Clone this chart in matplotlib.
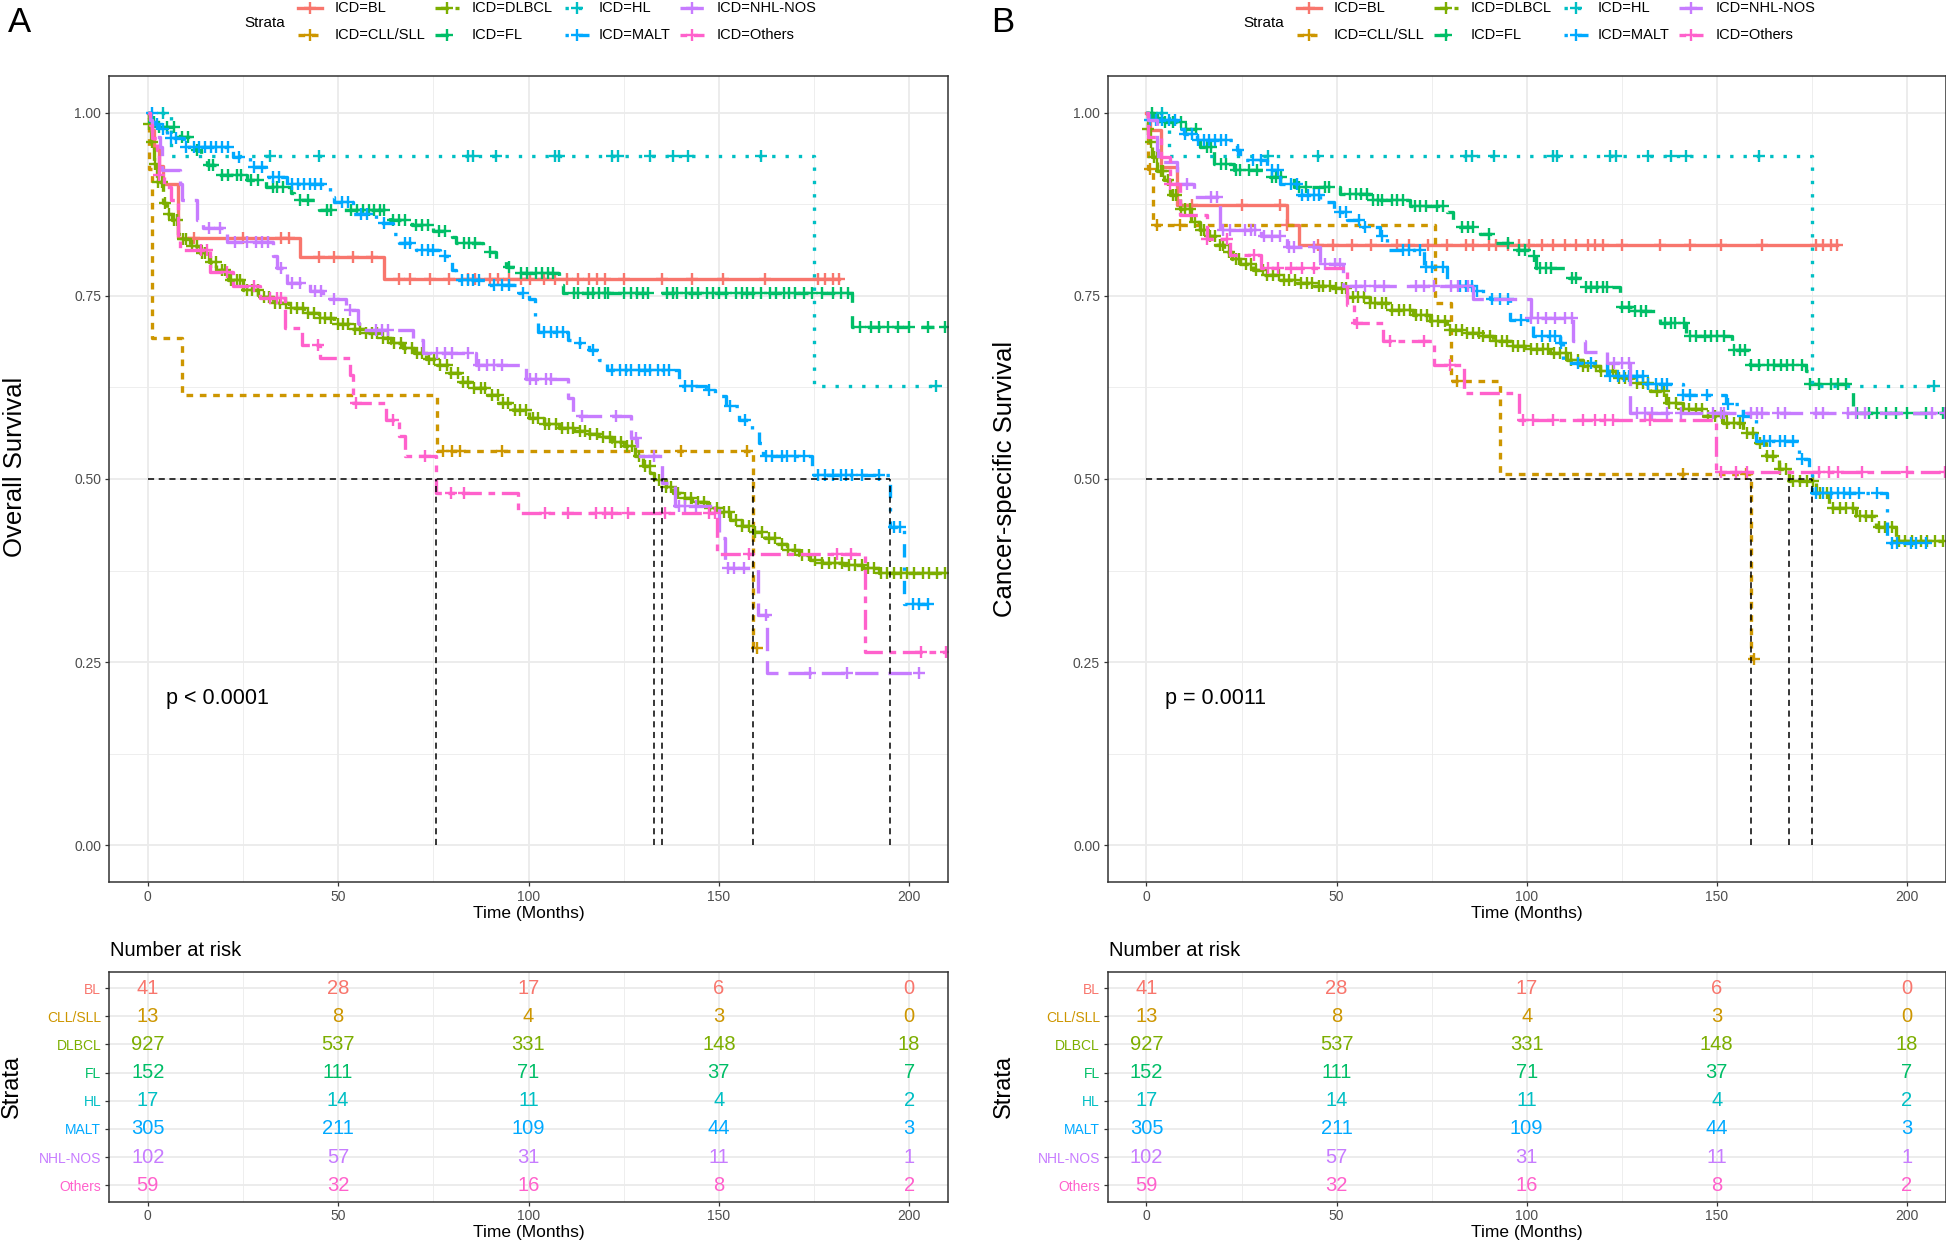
import numpy as np
import matplotlib.pyplot as plt
from matplotlib.lines import Line2D

plt.rcParams['font.family'] = ['Liberation Sans', 'DejaVu Sans']

strata = ["BL", "CLL/SLL", "DLBCL", "FL", "HL", "MALT", "NHL-NOS", "Others"]
colors = ["#F8766D", "#CD9600", "#7CAE00", "#00BE67", "#00BFC4", "#00A9FF", "#C77CFF", "#FF61CC"]
dash_patterns = [None, (2, 2), (4, 2), (4, 4), (1, 3), (1, 3, 4, 3), (7, 3), (2, 2, 6, 2)]

# ---------------- censoring times ----------------
bl_cens = [12, 25, 35, 37, 45, 49, 54, 59, 66, 69, 74, 79, 84, 86, 90, 92, 95, 98, 100.5, 104,
           107, 110, 113, 116, 118, 120, 125, 135, 143, 151, 162, 176, 178, 180, 181.5]
dlbcl_cens = [0.4, 1.1, 1.9, 2.7, 3.8, 4.4, 5.6, 6.9, 7.7, 9.2, 10.1, 11.5, 12.8, 14.3, 15.1, 16.6,
              17.9, 19.4, 20.2, 21.8, 23.5, 24.3, 26.1, 27.4, 28.9, 30.6, 31.7, 33.4, 34.8, 36.2,
              37.5, 39.1, 40.7, 42.2, 43.6, 45.3, 46.5, 48.2, 49.9, 51.3, 52.6, 54.4, 55.7, 57.3,
              58.8, 60.2, 61.9, 63.1, 64.7, 66.4, 67.6, 69.3, 70.8, 72.1, 73.9, 75.2, 76.8, 78.5,
              79.7, 81.4, 82.9, 84.2, 85.8, 87.5, 88.6, 90.3, 91.9, 93.4, 94.7, 96.5, 97.8, 99.4,
              101.2, 102.6, 104.3, 105.5, 107.1, 108.8, 110.4, 111.7, 113.5, 114.9, 116.2, 118.1,
              119.5, 121.3, 122.6, 124.2, 125.9, 127.3, 129.1, 130.6, 131.8, 134.2, 136.1, 137.5,
              139.3, 141.2, 142.7, 144.5, 146.1, 147.8, 149.4, 151.3, 152.8, 154.6, 156.1, 157.9,
              159.6, 161.4, 163.2, 164.8, 166.5, 168.3, 170.1, 171.9, 173.6, 175.3, 177.2, 178.9,
              180.6, 182.4, 184.1, 185.9, 187.6, 189.2, 190.8, 192.7, 194.3, 196.1, 197.8, 199.5,
              201.3, 203.6, 205.2, 207.4, 209.5]
fl_cens = [1.5, 3, 5, 7, 9, 10.5, 13, 16, 17, 19.5, 21, 23.5, 24.5, 27, 29, 33, 34, 35.5, 40, 42,
           47, 48, 53.5, 55, 56.5, 58, 59.5, 61, 62, 64.5, 66, 67.5, 70.5, 72, 73.5, 76.5, 78, 83,
           84.5, 86, 90, 95, 98, 99.5, 102, 103.5, 105, 106.5, 112, 113, 115.5, 117, 118.5, 120,
           121, 125, 127, 128.5, 130, 131.5, 136.5, 138, 139, 141.5, 143, 144.5, 147, 148.5, 150,
           152, 154.5, 156, 157.5, 159, 161, 163.5, 165, 167, 168.5, 170, 172.5, 174.5, 177, 180,
           182, 184, 187, 190, 192, 194.5, 197, 200, 205, 209.5]
hl_cens = [4, 32, 45, 84, 85.5, 91.5, 107, 108, 122, 123.5, 132, 138, 142, 161, 207]
malt_cens = [1, 2.5, 4, 6, 7.5, 10, 12, 13.5, 15, 16.5, 18, 19.5, 21, 24, 28, 30, 33, 34.5, 38,
             39.5, 41, 42.5, 44, 45.5, 51, 52.5, 56, 57.5, 62, 67.5, 69, 72, 73.5, 75, 78, 82.5,
             84, 85.5, 87, 91, 93, 95, 98.5, 104, 106, 107.5, 109, 113.5, 117, 122, 124, 125.5,
             127, 129, 130.5, 132, 134, 135.5, 137, 141, 143, 147.5, 153, 157, 162.5, 164, 166.5,
             168, 170, 172.5, 176, 178, 180, 182, 183.5, 185, 187.5, 192, 196, 197.5, 201, 202.5, 205]

# ---------------- A: overall survival (event times / survival after event) ----------------
os_bl_time = [0.5, 1.5, 3, 4, 8, 40, 62]
os_bl_surv = [0.976, 0.951, 0.927, 0.902, 0.829, 0.803, 0.773]
os_cll_time = [0.3, 1.0, 8.9, 76, 159]
os_cll_surv = [0.923, 0.692, 0.615, 0.538, 0.269]
os_cll_cens = [77.5, 80, 82, 93, 140, 157.5, 160]
os_dlbcl_time = [0.3, 0.8, 1.5, 2.5, 4, 5, 6.3, 8, 9, 11, 13.7, 16, 18, 21, 25, 29, 33, 37, 41, 45,
                 49, 53, 57, 61, 64, 67, 70, 73, 76, 79, 82, 85, 89, 92, 96, 100, 104, 108, 112,
                 116, 119, 122, 125, 128, 130, 132, 133, 136, 138, 140, 143, 147, 150, 153, 156,
                 159, 162, 165, 168, 171, 174, 177, 183, 188, 192]
os_dlbcl_surv = [0.985, 0.96, 0.93, 0.905, 0.876, 0.862, 0.853, 0.835, 0.828, 0.818, 0.808, 0.796,
                 0.785, 0.772, 0.758, 0.748, 0.74, 0.734, 0.727, 0.72, 0.712, 0.705, 0.699, 0.692,
                 0.686, 0.679, 0.672, 0.664, 0.655, 0.645, 0.633, 0.624, 0.614, 0.604, 0.594,
                 0.583, 0.575, 0.569, 0.565, 0.561, 0.557, 0.551, 0.545, 0.532, 0.518, 0.508,
                 0.498, 0.489, 0.481, 0.474, 0.468, 0.461, 0.455, 0.444, 0.436, 0.428, 0.419,
                 0.411, 0.403, 0.396, 0.389, 0.386, 0.383, 0.378, 0.372]
os_fl_time = [0.5, 1.2, 1.8, 7.5, 8.5, 11, 12, 14, 15.5, 18.5, 26, 31, 37.5, 38.5, 44, 45, 63, 63.5,
              69.5, 75, 80, 81, 88, 91.5, 94, 96.5, 108, 109, 185]
os_fl_surv = [0.993, 0.987, 0.981, 0.974, 0.967, 0.958, 0.949, 0.938, 0.928, 0.915, 0.908, 0.899,
              0.89, 0.881, 0.874, 0.867, 0.86, 0.853, 0.847, 0.838, 0.83, 0.822, 0.81, 0.799,
              0.79, 0.781, 0.765, 0.754, 0.708]
os_hl_time = [6, 175]
os_hl_surv = [0.941, 0.627]
os_malt_time = [1.5, 3, 5, 9.4, 22.5, 26.8, 31, 36.5, 47.8, 49, 54, 60, 64.4, 66, 70.5, 76.7, 80,
                81, 89, 97.6, 100, 101.6, 102.5, 110.5, 112, 116, 118.6, 120.5, 139.6, 146.6,
                149, 151.8, 155.3, 158.8, 160.6, 161.5, 174.6, 195, 198.6]
os_malt_surv = [0.985, 0.978, 0.965, 0.953, 0.94, 0.926, 0.912, 0.903, 0.885, 0.878, 0.862, 0.849,
                0.835, 0.822, 0.813, 0.804, 0.785, 0.772, 0.765, 0.754, 0.745, 0.722, 0.701,
                0.69, 0.686, 0.676, 0.663, 0.649, 0.627, 0.622, 0.613, 0.6, 0.581, 0.565,
                0.549, 0.531, 0.506, 0.435, 0.329]
os_nhl_time = [0.5, 1, 3.2, 3.7, 8.5, 9, 13, 14.6, 20.7, 33, 34, 36.5, 42.6, 46, 52, 55.2, 55.5,
               69.7, 72.3, 86.3, 99.4, 110.3, 111.6, 127, 128.5, 135, 138.5, 150, 151.6, 160.4,
               162.7]
os_nhl_surv = [0.99, 0.967, 0.953, 0.922, 0.903, 0.881, 0.853, 0.842, 0.824, 0.804, 0.788, 0.767,
               0.756, 0.745, 0.731, 0.713, 0.704, 0.69, 0.672, 0.656, 0.636, 0.611, 0.586,
               0.556, 0.531, 0.495, 0.463, 0.42, 0.379, 0.315, 0.235]
os_nhl_cens = [16, 19, 23, 26, 28.5, 30, 31.5, 35, 38, 40, 44, 45.5, 49, 53, 60, 61.5, 63, 76, 78,
               80, 84, 87, 89, 91, 93, 100.5, 102, 104.5, 106, 114, 123, 128.3, 133, 139.5, 141,
               144, 152.5, 154, 156.5, 162.5, 174, 183.7, 202.5]
os_oth_time = [0.5, 1, 2.5, 3, 4.2, 6, 8, 8.5, 16.3, 22.5, 29.5, 36, 40.5, 45.2, 53, 54, 62.5, 66,
               67.5, 75.8, 97.2, 149.6, 188.5]
os_oth_surv = [0.983, 0.966, 0.949, 0.915, 0.898, 0.881, 0.83, 0.813, 0.783, 0.763, 0.747, 0.706,
               0.683, 0.665, 0.642, 0.604, 0.581, 0.559, 0.531, 0.481, 0.454, 0.397, 0.264]
os_oth_cens = [3, 14, 15.5, 20.7, 28, 32, 34, 35, 44.8, 54.8, 64.4, 72.7, 79.7, 83, 104.4, 110.5,
               117.8, 120, 122, 126.2, 135.9, 147.3, 149, 158, 181, 184.7, 203, 209.6]

# ---------------- B: cancer-specific survival ----------------
css_bl_time = [1, 3.7, 8, 37, 40]
css_bl_surv = [0.976, 0.926, 0.874, 0.847, 0.819]
css_cll_time = [0.3, 1.8, 76, 80, 93, 159]
css_cll_surv = [0.923, 0.846, 0.74, 0.634, 0.507, 0.254]
css_cll_cens = [0.8, 2.8, 8.9, 81.6, 141, 157.7, 159.8]
css_dlbcl_time = [0.3, 1, 1.5, 2.8, 4.5, 6.3, 8.9, 11.6, 14, 16, 18, 20.3, 22.5, 24.7, 28, 30.8,
                  35, 39.6, 44, 48.3, 52.7, 58.8, 64, 70.2, 74.6, 79, 83, 87.7, 91.2, 96.5, 101,
                  106, 110.5, 114.9, 119.2, 123.6, 128, 132.3, 136.7, 141, 146.3, 151.6, 156.8,
                  160.3, 163, 166.4, 169, 176, 179.5, 186.5, 191.8, 197]
css_dlbcl_surv = [0.978, 0.96, 0.94, 0.92, 0.908, 0.887, 0.869, 0.851, 0.84, 0.831, 0.82, 0.81,
                  0.8, 0.794, 0.785, 0.779, 0.772, 0.767, 0.763, 0.76, 0.749, 0.74, 0.731, 0.724,
                  0.715, 0.704, 0.699, 0.695, 0.688, 0.681, 0.678, 0.672, 0.663, 0.654, 0.647,
                  0.638, 0.631, 0.62, 0.604, 0.595, 0.586, 0.577, 0.563, 0.549, 0.531, 0.513,
                  0.497, 0.481, 0.46, 0.449, 0.435, 0.415]
css_fl_time = [2, 5, 10, 14, 17.7, 23, 32.6, 38.7, 51, 58.8, 69.4, 79, 80.7, 87.7, 91.3, 95.6,
               100.9, 102.5, 111, 115, 124.5, 128, 135, 142, 154, 158.6, 173.4, 174, 185.7]
css_fl_surv = [0.993, 0.987, 0.978, 0.953, 0.93, 0.922, 0.912, 0.899, 0.889, 0.881, 0.872, 0.865,
               0.844, 0.835, 0.822, 0.813, 0.804, 0.788, 0.774, 0.762, 0.735, 0.729, 0.713,
               0.695, 0.676, 0.656, 0.647, 0.629, 0.59]
css_hl_time = [6, 175]
css_hl_surv = [0.941, 0.627]
css_malt_time = [1, 8, 9.8, 13.3, 23.8, 24.7, 31.7, 35.2, 39.6, 45.7, 49.2, 52.7, 57, 61.5, 63.2,
                 72.9, 79, 86, 90.4, 95.6, 101.7, 108.7, 109.6, 121, 131.5, 141, 152.4, 156.8,
                 160.3, 171.7, 174.3, 175, 194.8]
css_malt_surv = [0.99, 0.978, 0.971, 0.962, 0.949, 0.935, 0.922, 0.903, 0.887, 0.878, 0.865,
                 0.853, 0.844, 0.831, 0.813, 0.79, 0.763, 0.756, 0.745, 0.717, 0.695, 0.686,
                 0.658, 0.64, 0.629, 0.615, 0.602, 0.586, 0.552, 0.527, 0.515, 0.481, 0.413]
css_nhl_time = [0.5, 2.8, 3, 8, 12.4, 19.4, 30, 37, 45.7, 51.8, 86, 101, 112.2, 115.3, 121, 127.1]
css_nhl_surv = [0.99, 0.949, 0.933, 0.903, 0.885, 0.84, 0.831, 0.817, 0.794, 0.764, 0.745, 0.72,
                0.688, 0.674, 0.658, 0.59]
css_nhl_cens = [10.7, 17, 18.5, 20, 22, 26, 27.5, 28.6, 31, 33, 35, 37.5, 38.7, 44, 47, 49.5, 51,
                55, 57.5, 60, 62.5, 71, 73, 75.5, 80, 82, 84.5, 101, 103, 105, 107.5, 110, 112,
                123, 125, 127, 129, 131, 133, 137, 140.5, 149, 151, 152, 159, 160.5, 162, 166,
                168, 176, 178, 184.5, 186.5, 189, 206.5, 210]
css_oth_time = [0.5, 3.7, 6.3, 8.9, 16, 22, 30, 52.7, 54.5, 62.3, 75.5, 83.4, 98, 149.8]
css_oth_surv = [0.967, 0.94, 0.903, 0.86, 0.828, 0.806, 0.788, 0.738, 0.713, 0.688, 0.656, 0.618,
                0.581, 0.509]
css_oth_cens = [6.3, 16, 21.2, 28.2, 32, 34.5, 38, 41, 44, 55.3, 64, 73, 79.7, 99, 101.7, 107,
                114.9, 118, 120.5, 122.7, 132.3, 151.1, 155, 158, 177, 179.5, 182, 188.3, 200, 210]

# ---------------- number at risk ----------------
risk_times = [0, 50, 100, 150, 200]
risk_bl = [41, 28, 17, 6, 0]
risk_cll = [13, 8, 4, 3, 0]
risk_dlbcl = [927, 537, 331, 148, 18]
risk_fl = [152, 111, 71, 37, 7]
risk_hl = [17, 14, 11, 4, 2]
risk_malt = [305, 211, 109, 44, 3]
risk_nhl = [102, 57, 31, 11, 1]
risk_oth = [59, 32, 16, 8, 2]
at_risk = [risk_bl, risk_cll, risk_dlbcl, risk_fl, risk_hl, risk_malt, risk_nhl, risk_oth]

os_curves = [(os_bl_time, os_bl_surv, bl_cens), (os_cll_time, os_cll_surv, os_cll_cens),
             (os_dlbcl_time, os_dlbcl_surv, dlbcl_cens), (os_fl_time, os_fl_surv, fl_cens),
             (os_hl_time, os_hl_surv, hl_cens), (os_malt_time, os_malt_surv, malt_cens),
             (os_nhl_time, os_nhl_surv, os_nhl_cens), (os_oth_time, os_oth_surv, os_oth_cens)]
css_curves = [(css_bl_time, css_bl_surv, bl_cens), (css_cll_time, css_cll_surv, css_cll_cens),
              (css_dlbcl_time, css_dlbcl_surv, dlbcl_cens), (css_fl_time, css_fl_surv, fl_cens),
              (css_hl_time, css_hl_surv, hl_cens), (css_malt_time, css_malt_surv, malt_cens),
              (css_nhl_time, css_nhl_surv, css_nhl_cens), (css_oth_time, css_oth_surv, css_oth_cens)]

W, H = 1946, 1244
fig = plt.figure(figsize=(W / 100, H / 100), dpi=100)
GRID = '#EBEBEB'
XLIM = (-10.2, 210.2)
LW = 2.4
MS, MEW = 8, 1.7


def fx(px):
    return px / W


def fy(py):
    return 1 - py / H


def bw_style(ax):
    for sp in ax.spines.values():
        sp.set_color('#333333')
        sp.set_linewidth(1.1)
    ax.set_xlim(*XLIM)
    ax.set_xticks([0, 50, 100, 150, 200])
    ax.set_xticks([25, 75, 125, 175], minor=True)
    ax.grid(which='major', color=GRID, lw=1.3)
    ax.grid(which='minor', color=GRID, lw=0.6)
    ax.set_axisbelow(True)
    ax.tick_params(which='major', direction='out', length=3, width=0.9, color='#333333',
                   labelsize=10, labelcolor='#4D4D4D', pad=2.5)
    ax.tick_params(which='minor', length=0)


def km_panel(ax, curves, ptext):
    meds = []
    for i, (t, s, c) in enumerate(curves):
        t = np.array(t, float)
        s = np.array(s, float)
        c = np.array(c, float)
        end = max(c.max(), t.max())
        x = np.concatenate([[0], t, [end]])
        y = np.concatenate([[1], s, [s[-1]]])
        line, = ax.step(x, y, where='post', color=colors[i], lw=LW)
        if dash_patterns[i] is not None:
            line.set_dashes(dash_patterns[i])
        idx = np.searchsorted(t, c, side='right')
        cy = np.where(idx == 0, 1.0, s[np.maximum(idx - 1, 0)])
        ax.plot(c, cy, ls='none', marker='+', color=colors[i], ms=MS, mew=MEW)
        below = t[s <= 0.5]
        if len(below):
            meds.append(below[0])
    ax.plot([0, max(meds)], [0.5, 0.5], color='black', lw=1.1, dashes=(4, 3))
    for m in meds:
        ax.plot([m, m], [0, 0.5], color='black', lw=1.1, dashes=(4, 3))
    bw_style(ax)
    ax.set_ylim(-0.05, 1.05)
    ax.set_yticks([0, 0.25, 0.5, 0.75, 1.0])
    ax.set_yticklabels(['0.00', '0.25', '0.50', '0.75', '1.00'])
    ax.set_yticks([0.125, 0.375, 0.625, 0.875], minor=True)
    ax.set_xlabel('Time (Months)', fontsize=12.5, labelpad=1.5)
    ax.text(4.8, 0.2, ptext, fontsize=15.5, ha='left', va='center')


def risk_panel(ax):
    for i, counts in enumerate(at_risk):
        for tt, n in zip(risk_times, counts):
            ax.text(tt, i, str(n), color=colors[i], ha='center', va='center', fontsize=14.5)
    bw_style(ax)
    ax.set_ylim(7.58, -0.58)
    ax.set_yticks(range(len(strata)))
    ax.set_yticklabels(strata, fontsize=10)
    for lab, col in zip(ax.get_yticklabels(), colors):
        lab.set_color(col)
    ax.set_xlabel('Time (Months)', fontsize=12.5, labelpad=1)


def legend(x0):
    fig.text(fx(x0 + 265), fy(23), 'Strata', fontsize=11, ha='center', va='center')
    key_x = [310, 447, 577, 692]
    txt_x = [335, 472, 599, 717]
    rows_y = [8, 35]
    for i, name in enumerate(strata):
        col, row = i // 2, i % 2
        kx, ky = x0 + key_x[col], rows_y[row]
        ln = Line2D([fx(kx - 12), fx(kx + 12)], [fy(ky), fy(ky)], transform=fig.transFigure,
                    color=colors[i], lw=LW)
        if dash_patterns[i] is not None:
            ln.set_dashes(dash_patterns[i])
        fig.add_artist(ln)
        fig.add_artist(Line2D([fx(kx)], [fy(ky)], transform=fig.transFigure, ls='none',
                              marker='+', ms=MS, mew=MEW, color=colors[i]))
        fig.text(fx(x0 + txt_x[col]), fy(ky), 'ICD=' + name, fontsize=10.5, va='center', ha='left')


panels = [
    (109, 948, os_curves, 'p < 0.0001', 'Overall Survival', 15, 467, 12, 'A', 19),
    (1107.7, 1945.7, css_curves, 'p = 0.0011', 'Cancer-specific Survival', 1005, 479, 1004, 'B', 1003),
]
for (left, right, curves, ptext, ylab, ylab_x, ylab_y, strata_x, letter, letter_x) in panels:
    ax = fig.add_axes([fx(left), fy(882), fx(right - left), (882 - 76) / H])
    km_panel(ax, curves, ptext)
    fig.text(fx(ylab_x), fy(ylab_y), ylab, rotation=90, fontsize=18.5, ha='center', va='center')

    axt = fig.add_axes([fx(left), fy(1201.7), fx(right - left), (1201.7 - 971.7) / H])
    risk_panel(axt)
    fig.text(fx(left + 1), fy(950), 'Number at risk', fontsize=14.5, ha='left', va='center')
    fig.text(fx(strata_x), fy(1086), 'Strata', rotation=90, fontsize=17, ha='center', va='center')

    fig.text(fx(letter_x), fy(22), letter, fontsize=25, ha='center', va='center')
    legend(left - 109)

fig.savefig('out.png', dpi=100)
